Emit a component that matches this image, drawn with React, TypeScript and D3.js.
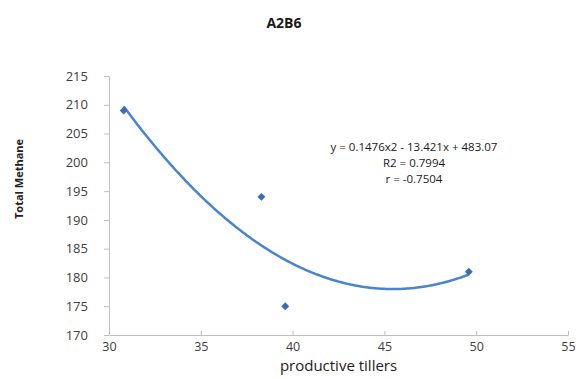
import React, { useEffect, useRef } from 'react';
import * as d3 from 'd3';

const tillers = [30.8, 38.3, 39.6, 49.6];
const methane = [209, 194, 175, 181];
const fitCoef = [0.1476, -13.421, 483.07]; // from the trendline label
const xTicks = [30, 35, 40, 45, 50, 55];
const yTicks = [170, 175, 180, 185, 190, 195, 200, 205, 210, 215];
const eqLines = ['y = 0.1476x2 - 13.421x + 483.07', 'R2 = 0.7994', 'r = -0.7504'];

const App: React.FC = () => {
  const svgRef = useRef<SVGSVGElement>(null);
  const width = 576;
  const height = 379;

  useEffect(() => {
    if (!svgRef.current) return;
    const svg = d3.select(svgRef.current);
    svg.selectAll("*").remove();

    const colors = {
      text: "#404040",
      axis: "#bfbfbf",
      point: "#3b6db5",
      curve: "#4a84cf"
    };
    const font = "'Open Sans', 'Liberation Sans', sans-serif";

    const x = d3.scaleLinear().domain([30, 55]).range([109, 568]);
    const y = d3.scaleLinear().domain([170, 215]).range([335, 76]);

    svg.append("text")
      .attr("x", 284).attr("y", 28)
      .attr("text-anchor", "middle")
      .attr("fill", "#1a1a1a")
      .style("font-family", font)
      .style("font-weight", "bold")
      .style("font-size", "14px")
      .text("A2B6");

    const yAxis = svg.append("g").attr("transform", `translate(${x(30)},0)`)
      .call(d3.axisLeft(y).tickValues(yTicks).tickSize(5).tickSizeOuter(0).tickPadding(16));
    yAxis.select(".domain").attr("stroke", colors.axis);
    yAxis.selectAll(".tick line").attr("stroke", colors.axis);
    yAxis.selectAll("text").attr("fill", colors.text).style("font-family", font).style("font-size", "13px");

    const xAxis = svg.append("g").attr("transform", `translate(0,${y(170)})`)
      .call(d3.axisBottom(x).tickValues(xTicks).tickSize(-4).tickSizeOuter(0).tickPadding(7));
    xAxis.select(".domain").attr("stroke", colors.axis);
    xAxis.selectAll(".tick line").attr("stroke", colors.axis);
    xAxis.selectAll("text").attr("fill", colors.text).style("font-family", font).style("font-size", "12.5px");

    svg.append("text")
      .attr("x", (x(30) + x(55)) / 2).attr("y", 371)
      .attr("text-anchor", "middle")
      .attr("fill", "#222")
      .style("font-family", font)
      .style("font-size", "15px")
      .text("productive tillers");

    svg.append("text")
      .attr("transform", "rotate(-90)")
      .attr("x", -179).attr("y", 23)
      .attr("text-anchor", "middle")
      .attr("fill", "#222")
      .style("font-family", font)
      .style("font-weight", "bold")
      .style("font-size", "11px")
      .text("Total Methane");

    // trendline from the displayed polynomial
    const [a, b, c] = fitCoef;
    const xs = d3.range(d3.min(tillers)!, d3.max(tillers)! + 0.001, 0.1);
    const line = d3.line<number>().x(d => x(d)).y(d => y(a * d * d + b * d + c)).curve(d3.curveBasis);
    svg.append("path")
      .datum(xs)
      .attr("d", line)
      .attr("fill", "none")
      .attr("stroke", colors.curve)
      .attr("stroke-width", 2.5);

    svg.append("g").selectAll("path").data(tillers).enter().append("path")
      .attr("d", d3.symbol().type(d3.symbolDiamond2).size(40)()!)
      .attr("transform", (d, i) => `translate(${x(d)},${y(methane[i])})`)
      .attr("fill", colors.point);

    const eq = svg.append("text")
      .attr("text-anchor", "middle")
      .attr("fill", "#1a1a1a")
      .style("font-family", font)
      .style("font-size", "11.5px");
    eqLines.forEach((t, i) => {
      eq.append("tspan").attr("x", 414).attr("y", 151 + i * 16).text(t);
    });
  }, []);

  return <svg ref={svgRef} width={width} height={height} viewBox={`0 0 ${width} ${height}`} style={{ display: 'block', position: 'absolute', left: 0, top: 0, background: '#fff' }} />;
};

export default App;
